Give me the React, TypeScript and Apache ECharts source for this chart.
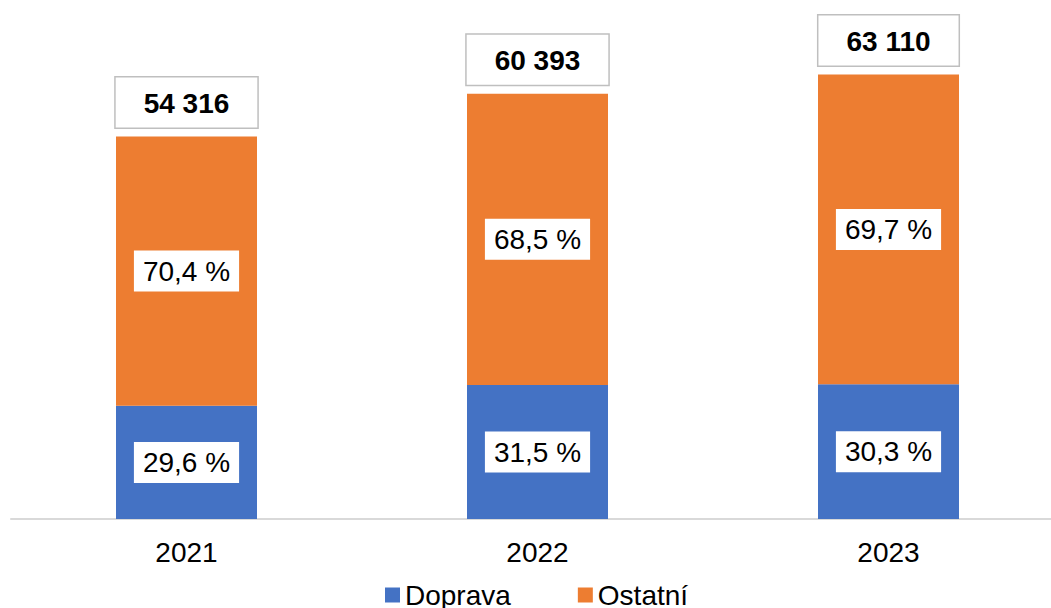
import React, { useEffect, useRef } from "react";
import * as echarts from "echarts";

const categories = ["2021", "2022", "2023"];
const doprava = [16078, 19024, 19122];
const ostatni = [38238, 41369, 43988];
const totals = [54316, 60393, 63110];
const pctDoprava = ["29,6 %", "31,5 %", "30,3 %"];
const pctOstatni = ["70,4 %", "68,5 %", "69,7 %"];

const FONT = "'Liberation Sans', Arial, sans-serif";

const fmtTotal = (v: number) => String(v).replace(/\B(?=(\d{3})+(?!\d))/g, " ");

export default function App() {
  const ref = useRef<HTMLDivElement>(null);
  useEffect(() => {
    if (!ref.current) return;
    const chart = echarts.init(ref.current, null, { renderer: "svg" });
    const pctLabel = (arr: string[]) => ({
      show: true,
      position: "inside",
      formatter: (p: any) => arr[p.dataIndex],
      color: "#000",
      fontSize: 28,
      fontFamily: FONT,
      backgroundColor: "#fff",
      padding: [7, 9, 5, 9],
      lineHeight: 29,
    });
    chart.setOption({
      animation: false,
      textStyle: { fontFamily: FONT },
      grid: { left: 11, right: 0, top: 26, bottom: 89, containLabel: false },
      legend: {
        data: ["Doprava", "Ostatní"],
        top: 576,
        left: 380,
        itemWidth: 15,
        itemHeight: 15,
        itemGap: 67,
        icon: "rect",
        textStyle: { fontSize: 28, color: "#000", fontFamily: FONT },
      },
      xAxis: {
        type: "category",
        data: categories,
        axisLine: { lineStyle: { color: "#d9d9d9", width: 2 } },
        axisTick: { show: false },
        axisLabel: { fontSize: 28, color: "#000", margin: 19, fontFamily: FONT },
      },
      yAxis: {
        type: "value",
        min: 0,
        max: 70000,
        show: false,
        splitLine: { show: false },
      },
      series: [
        {
          name: "Total",
          type: "bar",
          data: totals,
          barWidth: 141,
          barGap: "-100%",
          z: 1,
          itemStyle: { color: "rgba(0,0,0,0)" },
          silent: true,
          label: {
            show: true,
            position: "top",
            distance: 9,
            formatter: (p: any) => fmtTotal(p.value),
            color: "#000",
            fontSize: 28,
            fontWeight: "bold",
            fontFamily: FONT,
            backgroundColor: "#fff",
            borderColor: "#bfbfbf",
            borderWidth: 1.5,
            padding: [11, 28, 9, 28],
            lineHeight: 30,
          },
        },
        {
          name: "Doprava",
          type: "bar",
          stack: "a",
          data: doprava,
          barWidth: 141,
          z: 2,
          itemStyle: { color: "#4472C4" },
          label: pctLabel(pctDoprava),
        },
        {
          name: "Ostatní",
          type: "bar",
          stack: "a",
          data: ostatni,
          barWidth: 141,
          z: 2,
          itemStyle: { color: "#ED7D31" },
          label: pctLabel(pctOstatni),
        },
      ],
    });
    return () => chart.dispose();
  }, []);
  return (
    <div style={{ position: "absolute", left: 0, top: 0, width: 1051, height: 608, overflow: "hidden" }}>
      <div ref={ref} style={{ width: 1064, height: 608 }} />
    </div>
  );
}
